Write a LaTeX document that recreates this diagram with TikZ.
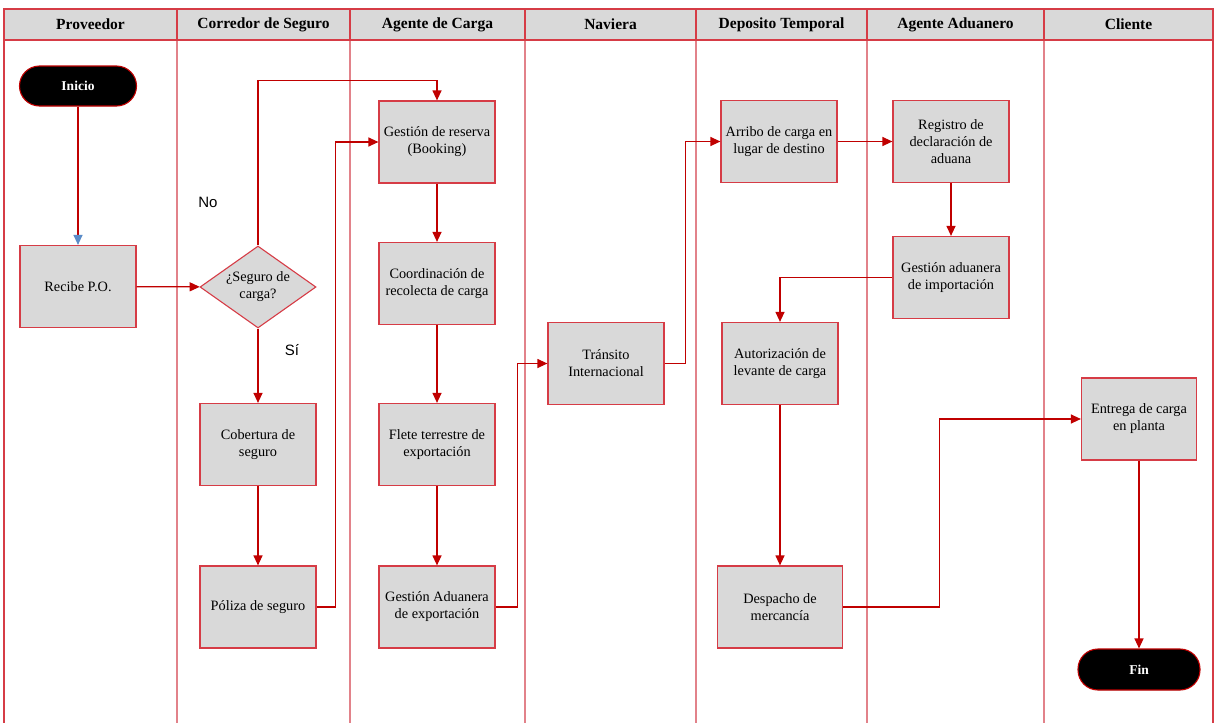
\documentclass[tikz,border=0pt]{standalone}
\usepackage{fontspec}
\setmainfont{Liberation Serif}
\newfontfamily\labelsans{Liberation Sans}
\usetikzlibrary{arrows.meta,shapes.geometric,calc}
\definecolor{flowred}{RGB}{192,0,0}
\definecolor{boxred}{RGB}{214,60,70}
\definecolor{laneline}{RGB}{226,130,138}
\definecolor{boxgray}{RGB}{217,217,217}
\definecolor{tipblue}{RGB}{91,140,200}
\tikzset{
  lanehead/.style={draw=boxred, fill=boxgray, line width=1.1pt, minimum height=31pt,
    inner sep=0pt, font=\fontsize{15.5}{18}\selectfont\bfseries},
  proc/.style={draw=boxred, fill=boxgray, line width=1.2pt, minimum width=116pt,
    minimum height=82pt, inner sep=2pt, align=center,
    font=\fontsize{14.3}{17}\selectfont},
  decision/.style={diamond, draw=boxred, fill=boxgray, line width=1.1pt, aspect=1.42,
    minimum width=116pt, minimum height=82pt, inner sep=0pt, align=center,
    font=\fontsize{14.3}{17}\selectfont},
  terminal/.style={draw=flowred, fill=black, text=white, rounded corners=20pt,
    line width=1.1pt, minimum height=40pt, inner sep=0pt,
    font=\fontsize{13.5}{15}\selectfont\bfseries},
  flow/.style={draw=flowred, line width=1.2pt, -{Triangle[length=10pt,width=9pt]}},
  lane/.style={draw=laneline, line width=1.3pt},
  branch/.style={font=\labelsans\fontsize{15}{17}\selectfont}
}
\begin{document}
\begin{tikzpicture}[x=1pt, y=-1pt]
\useasboundingbox (0,0) rectangle (1215,723);
\fill[white] (0,0) rectangle (1215,723);

% swimlane separators
\foreach \lx in {177,350,525,696,867,1044} {
  \draw[lane] (\lx,40) -- (\lx,723);
}
\draw[draw=boxred, line width=1.3pt] (4,40) -- (4,723);
\draw[draw=boxred, line width=1.3pt] (1213,40) -- (1213,723);

% lane headers
\node[lanehead, minimum width=173pt] (h1) at (90.5,24.5) {Proveedor};
\node[lanehead, minimum width=173pt] (h2) at (263.5,24.5) {Corredor de Seguro};
\node[lanehead, minimum width=175pt] (h3) at (437.5,24.5) {Agente de Carga};
\node[lanehead, minimum width=171pt] (h4) at (610.5,24.5) {Naviera};
\node[lanehead, minimum width=171pt] (h5) at (781.5,24.5) {Deposito Temporal};
\node[lanehead, minimum width=177pt] (h6) at (955.5,24.5) {Agente Aduanero};
\node[lanehead, minimum width=169pt] (h7) at (1128.5,24.5) {Cliente};

% Proveedor
\node[terminal, minimum width=117pt] (ini) at (78,86) {Inicio};
\node[proc] (rpo) at (78,286.5) {Recibe P.O.};

% Corredor de Seguro
\node[decision] (dec) at (258,287) {¿Seguro de\\carga?};
\node[proc] (cob) at (258,444.5) {Cobertura de\\seguro};
\node[proc] (pol) at (258,607) {Póliza de seguro};
\node[branch] (no) at (208,202) {No};
\node[branch] (si) at (292,350) {Sí};

% Agente de Carga
\node[proc] (book) at (437,142) {Gestión de reserva\\(Booking)};
\node[proc] (coord) at (437,283.5) {Coordinación de\\recolecta de carga};
\node[proc] (flete) at (437,444.5) {Flete terrestre de\\exportación};
\node[proc] (gax) at (437,607) {Gestión Aduanera\\de exportación};

% Naviera
\node[proc] (tra) at (606,363.5) {Tránsito\\Internacional};

% Deposito Temporal
\node[proc] (arr) at (779,141.5) {Arribo de carga en\\lugar de destino};
\node[proc] (aut) at (780,363.5) {Autorización de\\levante de carga};
\node[proc, minimum width=125pt] (des) at (780,607) {Despacho de\\mercancía};

% Agente Aduanero
\node[proc] (reg) at (951,141.5) {Registro de\\declaración de\\aduana};
\node[proc] (gim) at (951,277.5) {Gestión aduanera\\de importación};

% Cliente
\node[proc, minimum width=115pt] (ent) at (1139,419) {Entrega de carga\\en planta};
\node[terminal, minimum width=122pt, minimum height=41pt] (fin) at (1139,669.5) {Fin};

% flow connectors
\draw[draw=flowred, line width=1.2pt, -{Triangle[length=10pt,width=9pt,color=tipblue]}] (ini) -- (rpo);
\draw[flow] (rpo) -- (dec);
\draw[flow] (dec.north) |- ([yshift=20pt]book.north) -- (book.north);
\draw[flow] (dec) -- (cob);
\draw[flow] (cob) -- (pol);
\draw[flow] (pol.east) -- ++(19,0) |- (book.west);
\draw[flow] (book) -- (coord);
\draw[flow] (coord) -- (flete);
\draw[flow] (flete) -- (gax);
\draw[flow] (gax.east) -- ++(22,0) |- (tra.west);
\draw[flow] (tra.east) -- ++(21,0) |- (arr.west);
\draw[flow] (arr) -- (reg);
\draw[flow] (reg) -- (gim);
\draw[flow] (gim.west) -| (aut.north);
\draw[flow] (aut) -- (des);
\draw[flow] (des.east) -- ++(96,0) |- (ent.west);
\draw[flow] (ent) -- (fin);
\end{tikzpicture}
\end{document}
